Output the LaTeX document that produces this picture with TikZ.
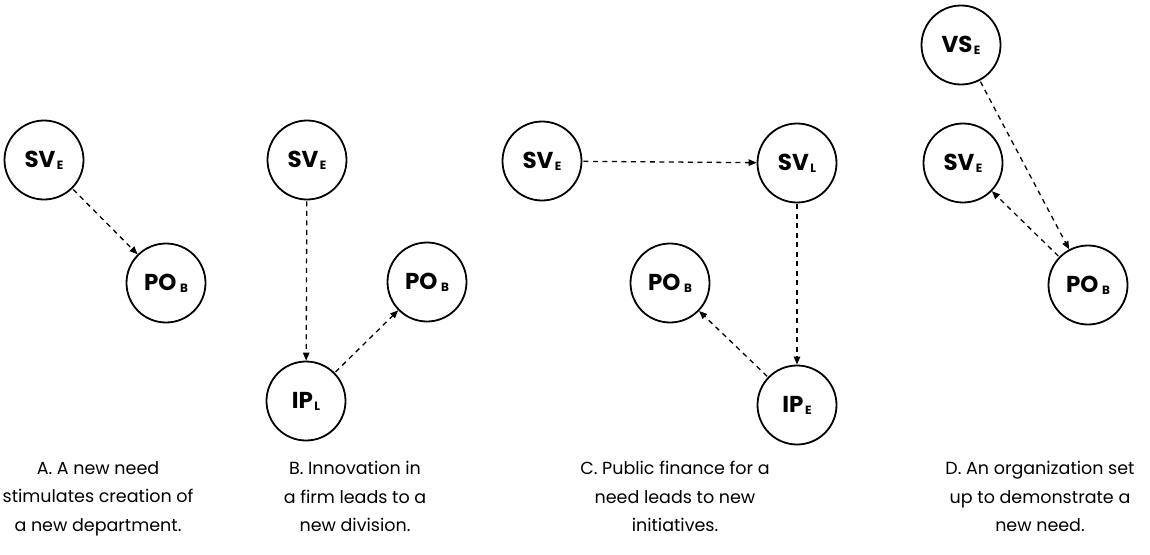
\documentclass[tikz,border=0pt]{standalone}
\usepackage{fontspec}
\setmainfont{Poppins}
\usetikzlibrary{arrows.meta}
\tikzset{
  state/.style={circle, draw, line width=1.8pt, minimum size=79pt, inner sep=0pt,
    font=\fontsize{23}{23}\selectfont\bfseries},
  flow/.style={line width=1.3pt, dash pattern=on 5pt off 4.5pt,
    -{Triangle[length=8pt,width=6.5pt]}, shorten <=1pt},
  caption/.style={align=center, anchor=north, inner sep=0pt,
    font=\fontsize{17.5}{28.5}\selectfont}
}
\newcommand{\sub}[1]{\kern1.5pt\raisebox{-2pt}{\fontsize{12}{12}\selectfont\bfseries #1}}
\begin{document}
\begin{tikzpicture}[x=1pt,y=-1pt]
\useasboundingbox (0,0) rectangle (1150,554);

% A: a new need stimulates a new department
\node[state] (svA) at (44,160) {SV\sub{E}};
\node[state] (poA) at (166,283) {PO\kern2pt\sub{B}};
\draw[flow] (svA) -- (poA);
\node[caption] (capA) at (98,461) {A. A new need\\stimulates creation of\\a new department.};

% B: innovation in a firm leads to a new division
\node[state] (svB) at (307,160) {SV\sub{E}};
\node[state] (ipB) at (306,401) {IP\sub{L}};
\node[state] (poB) at (427,282) {PO\kern2pt\sub{B}};
\draw[flow] (svB) -- (ipB);
\draw[flow] (ipB) -- (poB);
\node[caption] (capB) at (355,461) {B. Innovation in\\a firm leads to a\\new division.};

% C: public finance leads to new initiatives
\node[state] (svC) at (542,161) {SV\sub{E}};
\node[state] (svlC) at (797,163) {SV\sub{L}};
\node[state] (ipC) at (797,405) {IP\sub{E}};
\node[state] (poC) at (670,283) {PO\kern2pt\sub{B}};
\draw[flow] (svC) -- (svlC);
\draw[flow] (svlC) -- (ipC);
\draw[flow] (ipC) -- (poC);
\node[caption] (capC) at (675,461) {C. Public finance for a\\need leads to new\\initiatives.};

% D: an organization set up to demonstrate a new need
\node[state] (vsD) at (961,45) {VS\sub{E}};
\node[state] (svD) at (963,163) {SV\sub{E}};
\node[state] (poD) at (1088,285) {PO\kern2pt\sub{B}};
\draw[flow] (vsD) -- (poD);
\draw[flow] (poD) -- (svD);
\node[caption] (capD) at (1040,461) {D. An organization set\\up to demonstrate a\\new need.};
\end{tikzpicture}
\end{document}
